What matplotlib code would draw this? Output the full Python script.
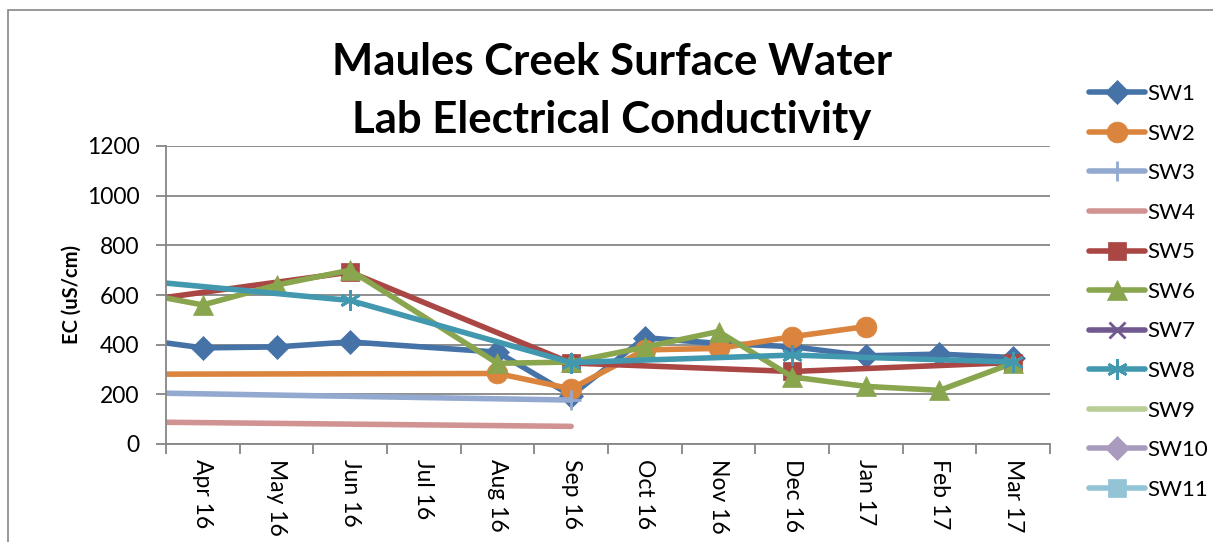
import matplotlib
matplotlib.use("Agg")
import matplotlib.pyplot as plt
from matplotlib.patches import Rectangle

plt.rcParams['font.family'] = ['Lato', 'DejaVu Sans']

# month categories on the date axis (index -1 = Mar 16, just off the left edge)
months = ['Apr 16', 'May 16', 'Jun 16', 'Jul 16', 'Aug 16', 'Sep 16',
          'Oct 16', 'Nov 16', 'Dec 16', 'Jan 17', 'Feb 17', 'Mar 17']

sw1_x = [-1, 0, 1, 2, 4, 5, 6, 7, 8, 9, 10, 11]
sw1_y = [427, 387, 391, 411, 370, 195, 428, 405, 392, 355, 362, 348]

sw2_x = [-1, 4, 5, 6, 7, 8, 9]
sw2_y = [281, 284, 222, 379, 385, 432, 473]

sw3_x = [-1, 5]
sw3_y = [207, 177]

sw4_x = [-1, 5]
sw4_y = [89, 71]

sw5_x = [-1, 2, 5, 8, 11]
sw5_y = [570, 692, 326, 292, 328]

sw6_x = [-1, 0, 1, 2, 4, 5, 6, 7, 8, 9, 10, 11]
sw6_y = [616, 560, 640, 700, 325, 330, 390, 453, 270, 232, 216, 326]

sw8_x = [-1, 2, 5, 8, 11]
sw8_y = [662, 578, 328, 358, 330]

# series with no visible data (legend only)
sw7_x, sw7_y = [], []
sw9_x, sw9_y = [], []
sw10_x, sw10_y = [], []
sw11_x, sw11_y = [], []

series = [
    ("SW1", sw1_x, sw1_y, "#4572A7", "D", 12),
    ("SW2", sw2_x, sw2_y, "#DB843D", "o", 15),
    ("SW3", sw3_x, sw3_y, "#93A9CF", "+", 14),
    ("SW4", sw4_x, sw4_y, "#D19392", None, 0),
    ("SW5", sw5_x, sw5_y, "#AA4643", "s", 13),
    ("SW6", sw6_x, sw6_y, "#89A54E", "^", 14),
    ("SW7", sw7_x, sw7_y, "#71588F", "x", 12),
    ("SW8", sw8_x, sw8_y, "#4198AF", (6, 2, 0), 15),
    ("SW9", sw9_x, sw9_y, "#B9CD96", None, 0),
    ("SW10", sw10_x, sw10_y, "#A99BBD", "D", 12),
    ("SW11", sw11_x, sw11_y, "#92C4D6", "s", 13),
]

W, H = 1213, 542
fig = plt.figure(figsize=(W / 100, H / 100), dpi=100)
ax = fig.add_axes([166 / W, 1 - 444 / H, (1050 - 166) / W, (444 - 146) / H])

# outer chart border (cropped on the right and bottom)
fig.patches.append(Rectangle((8 / W, -0.1), 1.2, (1 - 10 / H) + 0.1,
                             transform=fig.transFigure, fill=False,
                             edgecolor="#868686", linewidth=1.2))

for name, xs, ys, col, mk, ms in series:
    ax.plot(xs, ys, color=col, linewidth=4, marker=mk, markersize=ms,
            markeredgewidth=2 if mk in ("+", "x", (6, 2, 0)) else 0.5,
            markeredgecolor=col, solid_capstyle="round", label=name,
            clip_on=True)

ax.set_xlim(-0.5, 11.5)
ax.set_ylim(0, 1200)
ax.set_yticks(range(0, 1201, 200))
ax.yaxis.grid(True, color="#868686", linewidth=1.3)
ax.set_axisbelow(True)

ax.set_xticks([i - 0.5 for i in range(13)])
ax.set_xticklabels([])
ax.set_xticks(range(12), minor=True)
ax.set_xticklabels(months, minor=True, rotation=270, fontsize=16.5,
                   va="top", ha="center")
ax.tick_params(axis="x", which="minor", length=0, pad=11)
ax.tick_params(axis="x", which="major", length=7, color="#868686", width=1.3)
ax.tick_params(axis="y", length=7, color="#868686", width=1.3, labelsize=16.5,
               pad=12)

for s in ["top", "right"]:
    ax.spines[s].set_visible(False)
for s in ["left", "bottom"]:
    ax.spines[s].set_color("#868686")
    ax.spines[s].set_linewidth(1.3)

ax.set_ylabel("EC (uS/cm)", fontsize=14.5, fontweight="bold", labelpad=4)

fig.text(612 / W, 1 - 62 / H, "Maules Creek Surface Water", ha="center",
         va="center", fontsize=31.5, fontweight="bold")
fig.text(612 / W, 1 - 120 / H, "Lab Electrical Conductivity", ha="center",
         va="center", fontsize=31.5, fontweight="bold")

ax.legend(loc="upper left", bbox_to_anchor=(1078 / W, 1 - 73 / H),
          bbox_transform=fig.transFigure, frameon=False, fontsize=16,
          handlelength=2.5, handletextpad=0.1, labelspacing=0.88,
          borderpad=0)

fig.savefig("out.png", dpi=100)
